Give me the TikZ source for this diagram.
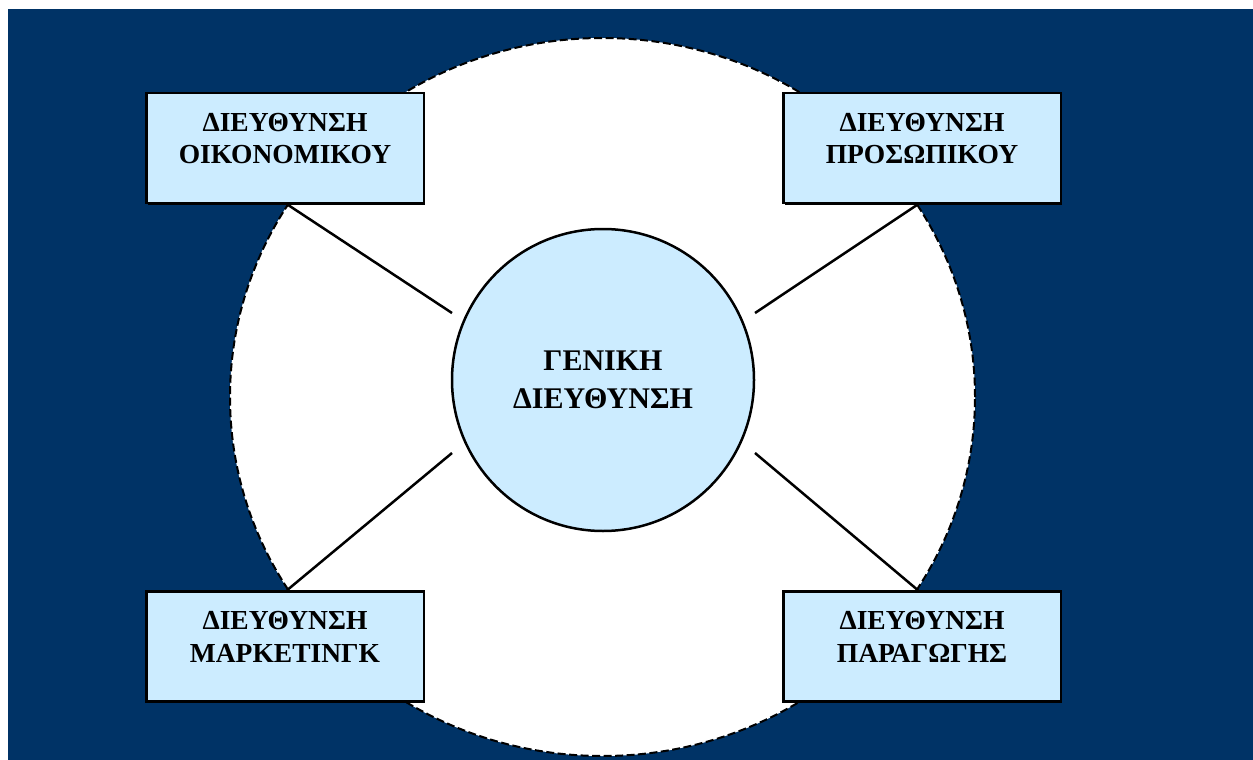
\documentclass[tikz,border=0pt]{standalone}
\usepackage{fontspec}
\setmainfont{Liberation Serif}
\definecolor{bgblue}{RGB}{0,51,102}
\definecolor{lightb}{RGB}{204,236,255}
\begin{document}
\begin{tikzpicture}[x=1pt,y=-1pt,
  dept/.style={draw=black, line width=2.5pt, fill=lightb, minimum width=277.5pt, minimum height=110pt, inner sep=0pt,
    preaction={fill=black, transform canvas={xshift=1.5pt,yshift=-1.5pt}}},
  depttext/.style={font=\fontsize{27.5}{32.5}\selectfont\bfseries, align=center, inner sep=0pt, anchor=north},
  central/.style={circle, draw=black, line width=2.5pt, fill=lightb, minimum size=302pt, inner sep=0pt,
    font=\fontsize{30}{38}\selectfont\bfseries, align=center},
  link/.style={line width=2.5pt}]
\useasboundingbox (0,0) rectangle (1253,760);
\fill[bgblue] (8,9) rectangle (1253,760);
\draw[fill=white, line width=2pt, dash pattern=on 8pt off 3.5pt] (602.5,397) ellipse [x radius=372.5pt, y radius=359pt];

\node[central] (gd) at (603,380) {ΓΕΝΙΚΗ\\ΔΙΕΥΘΥΝΣΗ};

\node[dept] (tl) at (285,148) {};
\node[dept] (tr) at (922,148) {};
\node[dept] (bl) at (285,646.5) {};
\node[dept] (br) at (922,646.5) {};

\node[depttext] (tlt) at ([yshift=-21pt]tl.north) {ΔΙΕΥΘΥΝΣΗ\\ΟΙΚΟΝΟΜΙΚΟΥ};
\node[depttext] (trt) at ([yshift=-21pt]tr.north) {ΔΙΕΥΘΥΝΣΗ\\ΠΡΟΣΩΠΙΚΟΥ};
\node[depttext] (blt) at ([yshift=-21pt]bl.north) {ΔΙΕΥΘΥΝΣΗ\\ΜΑΡΚΕΤΙΝΓΚ};
\node[depttext] (brt) at ([yshift=-21pt]br.north) {ΔΙΕΥΘΥΝΣΗ\\ΠΑΡΑΓΩΓΗΣ};

\coordinate (e1) at (452,313);
\coordinate (e2) at (755,313);
\coordinate (e3) at (452,453);
\coordinate (e4) at (755,453);

\draw[link] ([xshift=2pt]tl.south) -- (e1);
\draw[link] ([xshift=-4pt]tr.south) -- (e2);
\draw[link] ([xshift=2pt]bl.north) -- (e3);
\draw[link] ([xshift=-4pt]br.north) -- (e4);
\end{tikzpicture}
\end{document}
